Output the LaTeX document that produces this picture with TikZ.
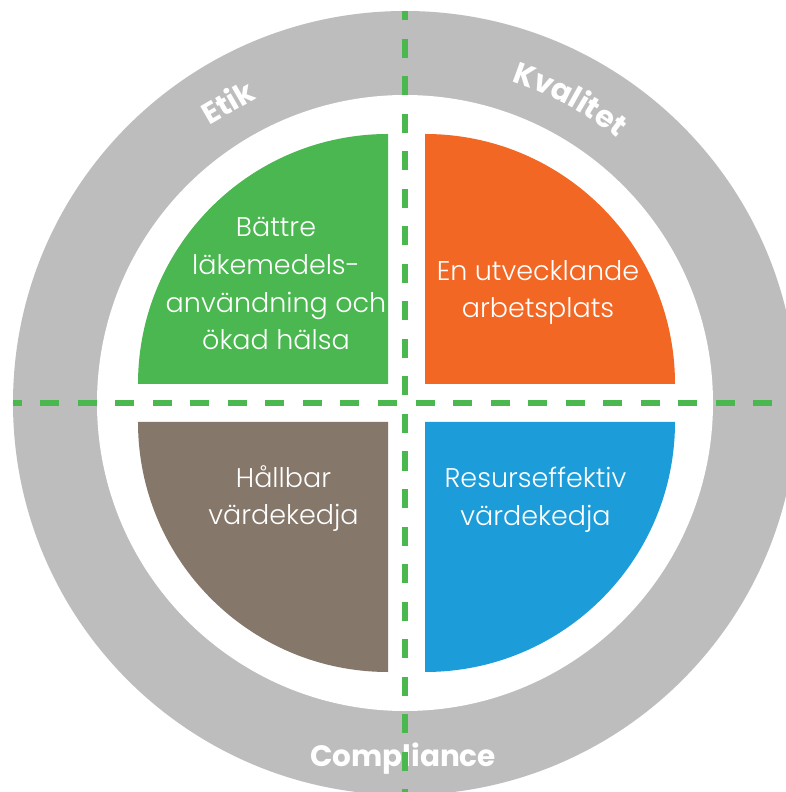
\documentclass[tikz,border=0pt]{standalone}
\usepackage{fontspec}
\usetikzlibrary{decorations.text}
\IfFontExistsTF{Poppins Light}{\newfontfamily\bodyfont{Poppins Light}}{\newfontfamily\bodyfont{Poppins}}
\IfFontExistsTF{Poppins Bold}{\newfontfamily\ringfont{Poppins Bold}}{\newfontfamily\ringfont{Poppins}}
\definecolor{ringgray}{HTML}{BDBDBD}
\definecolor{qgreen}{HTML}{4BB750}
\definecolor{qorange}{HTML}{F26724}
\definecolor{qbrown}{HTML}{857769}
\definecolor{qblue}{HTML}{1C9CD8}
\definecolor{dashgreen}{HTML}{4BB84F}
\tikzset{
  bodytext/.style={text=white, font=\bodyfont\fontsize{27}{32}\selectfont, anchor=base, inner sep=0pt},
  ringlabel/.style={text=white, font=\ringfont\fontsize{29.5}{36}\selectfont, anchor=base, inner sep=0pt},
  divider/.style={draw=dashgreen, line width=5.5pt, dash pattern=on 19pt off 18.5pt},
  ringtext/.style={decorate, decoration={text along path, text align=center, text color=white, text={|\ringfont\fontsize{30}{36}\selectfont|#1}}},
}
\begin{document}
\begin{tikzpicture}[x=1pt,y=1pt]
\clip (-405,-389) rectangle (381,403);
\fill[white] (-405,-389) rectangle (381,403);
% ring
\fill[ringgray] (0,0) circle[radius=392];
\fill[white] (0,0) circle[radius=308];
% quadrants
\fill[qgreen] (-17,19) -- ++(0,250) arc[start angle=90, end angle=180, radius=250] -- cycle;
\fill[qorange] (20,19) -- ++(250,0) arc[start angle=0, end angle=90, radius=250] -- cycle;
\fill[qbrown] (-17,-19) -- ++(-250,0) arc[start angle=180, end angle=270, radius=250] -- cycle;
\fill[qblue] (20,-19) -- ++(0,-250) arc[start angle=270, end angle=360, radius=250] -- cycle;
% quadrant texts
\node[bodytext] (g1) at (-129,166) {Bättre};
\node[bodytext] (g2) at (-129,128) {läkemedels-};
\node[bodytext] (g3) at (-129,90.5) {användning och};
\node[bodytext] (g4) at (-129,53) {ökad hälsa};
\node[bodytext] (o1) at (133,122) {En utvecklande};
\node[bodytext] (o2) at (133,85) {arbetsplats};
\node[bodytext] (b1) at (-121.5,-84) {Hållbar};
\node[bodytext] (b2) at (-121.5,-121) {värdekedja};
\node[bodytext] (u1) at (130.5,-84) {Resurseffektiv};
\node[bodytext] (u2) at (130.5,-122) {värdekedja};
% ring labels
\node[ringlabel, anchor=center, rotate=30] (etik) at (120.5:350) {Etik};
\path[ringtext=Kvalitet] (80:339) arc[start angle=80, end angle=43, radius=339];
\node[ringlabel] (compliance) at (-2,-363) {Compliance};
% dividers
\coordinate (vtop) at (0,392);
\coordinate (vbot) at (0,-392);
\coordinate (hleft) at (-392,0);
\coordinate (hright) at (392,0);
\draw[divider, dash phase=9.5pt] (vtop) -- (vbot);
\draw[divider, dash phase=10pt] (hleft) -- (hright);
\end{tikzpicture}
\end{document}
